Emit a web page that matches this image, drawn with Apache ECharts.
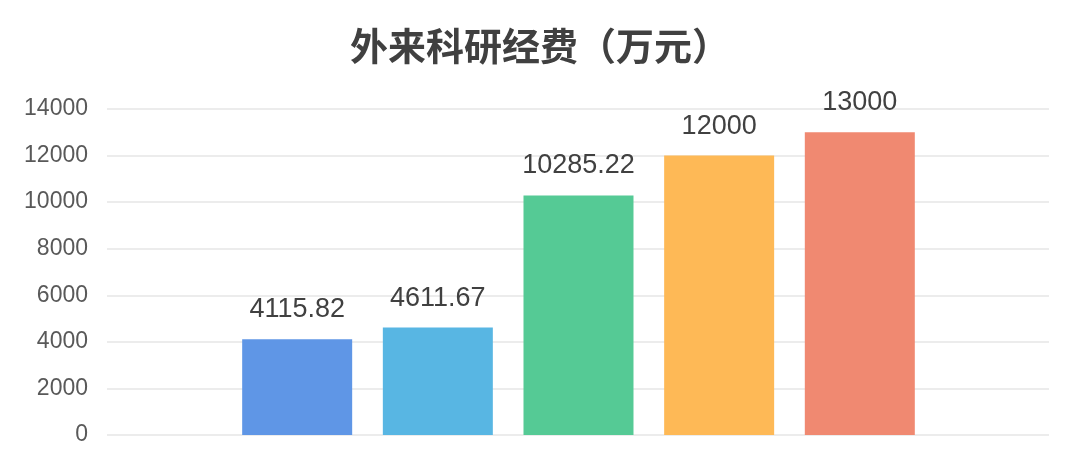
<!DOCTYPE html>
<html>
<head>
<meta charset="utf-8">
<script src="https://cdn.jsdelivr.net/npm/echarts@6/dist/echarts.min.js"></script>
<style>
  html, body { margin: 0; padding: 0; background: #fff; }
  #main { width: 1080px; height: 466px; }
</style>
</head>
<body>
<div id="main"></div>
<script>
// 数据
const categories = ['A', 'B', 'C', 'D', 'E'];
const values = [4115.82, 4611.67, 10285.22, 12000, 13000];
const colors = ['#5F96E6', '#58B6E3', '#55CA95', '#FEB956', '#F08971'];
const yTicks = [0, 2000, 4000, 6000, 8000, 10000, 12000, 14000];

const myChart = echarts.init(document.getElementById('main'));

myChart.setOption({
    animation: false,
    title: {
        text: '外来科研经费（万元）',
        left: 'center',
        top: 22,
        textStyle: {
            fontFamily: 'Noto Sans CJK SC',
            fontSize: 38,
            fontWeight: 'bold',
            color: '#404040'
        }
    },
    grid: { left: 107, right: 31, top: 109, bottom: 31 },
    xAxis: {
        type: 'value',
        min: -1.352,
        max: 5.345,
        show: false
    },
    yAxis: {
        type: 'value',
        min: yTicks[0],
        max: yTicks[yTicks.length - 1],
        interval: 2000,
        axisLine: { show: false },
        axisTick: { show: false },
        axisLabel: {
            margin: 19,
            fontFamily: 'Liberation Sans',
            fontSize: 23,
            color: '#595959',
            formatter: v => String(v)
        },
        splitLine: { lineStyle: { color: '#E6E6E6', width: 1.5 } }
    },
    series: [{
        type: 'bar',
        barWidth: 110,
        data: values.map((v, i) => ({
            name: categories[i],
            value: [i, v],
            itemStyle: { color: colors[i] }
        })),
        label: {
            show: true,
            position: 'top',
            distance: 16,
            fontFamily: 'Liberation Sans',
            fontSize: 27,
            color: '#404040',
            formatter: p => String(p.value[1])
        }
    }]
});
</script>
</body>
</html>
